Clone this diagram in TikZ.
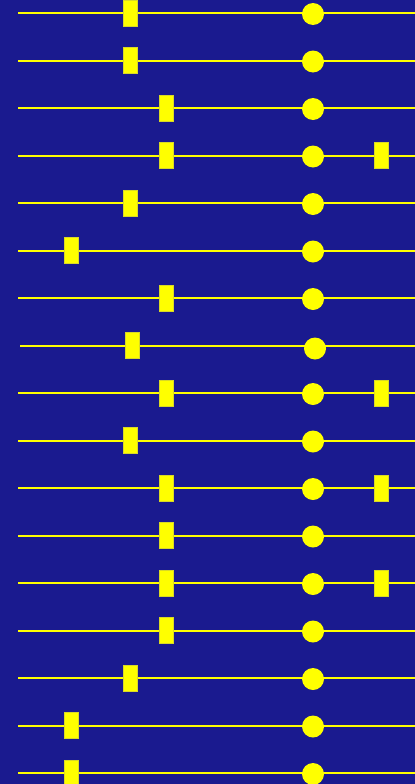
\documentclass[tikz,border=0pt]{standalone}
\definecolor{bgblue}{RGB}{26,26,143}
\definecolor{markyellow}{RGB}{255,255,0}
\begin{document}
\begin{tikzpicture}[x=0.5mm,y=-0.5mm]
	\newcommand\rowgap{47.5};
	\newcommand\lstart{18};
	\newcommand\lend{415};
	\newcommand\dotx{313};
	\newcommand\farx{381.5};
	\clip (0,0) rectangle (415,784);
	\fill[bgblue] (0,0) rectangle (415,784);
	% row / first bar / second bar? / shift
	\foreach \r/\bx/\far/\dx in {1/130/0/0, 2/130/0/0, 3/166/0/0, 4/166/1/0, 5/130/0/0, 6/71/0/0, 7/166/0/0, 8/130/0/2, 9/166/1/0, 10/130/0/0, 11/166/1/0, 12/166/0/0, 13/166/1/0, 14/166/0/0, 15/130/0/0, 16/71/0/0, 17/71/0/0} {
		\pgfmathsetmacro\y{13+(\r-1)*\rowgap}
		\draw[markyellow, line width=1mm] (\lstart+\dx, \y) -- (\lend, \y);
		\filldraw[fill=markyellow, draw=markyellow!70!gray, line width=.3pt] (\bx+\dx-7, \y-13) rectangle (\bx+\dx+7, \y+13);
		\fill[markyellow] (\dotx+\dx, \y+\dx+1) circle (11);
		\ifnum\far=1
			\filldraw[fill=markyellow, draw=markyellow!70!gray, line width=.3pt] (\farx-7, \y-13) rectangle (\farx+7, \y+13);
		\fi
	}
\end{tikzpicture}
\end{document}
